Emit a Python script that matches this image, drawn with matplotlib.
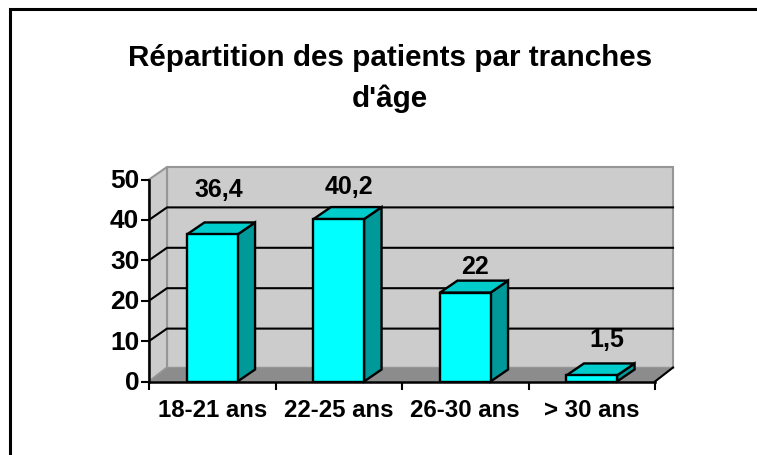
import matplotlib
matplotlib.use("Agg")
import matplotlib.pyplot as plt
from matplotlib.lines import Line2D
from matplotlib.patches import Polygon
from matplotlib.transforms import ScaledTranslation

W, H = 757, 456

categories = ["18-21 ans", "22-25 ans", "26-30 ans", "> 30 ans"]
values = [36.4, 40.2, 22, 1.5]
value_labels = ["36,4", "40,2", "22", "1,5"]
y_ticks = [0, 10, 20, 30, 40, 50]
title = "Répartition des patients par tranches\nd'âge"

plt.rcParams["font.family"] = ["Liberation Sans", "DejaVu Sans"]
plt.rcParams["font.weight"] = "bold"

fig = plt.figure(figsize=(W / 100, H / 100), dpi=100, facecolor="white")

# front plane of the fake 3d box, in pixels
x0, x1, y0, y1 = 149, 655, 382.5, 180.5
ax = fig.add_axes([x0 / W, 1 - y0 / H, (x1 - x0) / W, (y0 - y1) / H])
ax.set_xlim(0, 4)
ax.set_ylim(0, 50)
ax.patch.set_visible(False)
px_x = 4 / (x1 - x0)
px_y = 50 / (y0 - y1)

# box depth, and bar depth
wdx, wdy, fdy = 18 * px_x, 12.5 * px_y, 14 * px_y
bdx, bdy = 17.5 * px_x, 12 * px_y

# walls
wall = "#cccccc"
edge = "#969696"
ax.add_patch(Polygon([(wdx, fdy), (4 + wdx, fdy), (4 + wdx, 50 + wdy), (wdx, 50 + wdy)],
                     fc=wall, ec=edge, lw=1.5, clip_on=False, zorder=1))
ax.add_patch(Polygon([(0, 0), (wdx, fdy), (wdx, 50 + wdy), (0, 50)],
                     fc=wall, ec=edge, lw=1.5, clip_on=False, zorder=1))
ax.add_patch(Polygon([(0, 0), (4, 0), (4 + wdx, fdy), (wdx, fdy)],
                     fc="#8c8c8c", ec=edge, lw=1, clip_on=False, zorder=1))

# gridlines
for v in y_ticks[1:-1]:
    ax.plot([0, wdx, 4 + wdx], [v, v + wdy, v + wdy], color="black", lw=1.5,
            clip_on=False, zorder=2, solid_joinstyle="miter")
ax.plot([4, 4 + wdx], [0, fdy], color="black", lw=1.5, clip_on=False, zorder=2)

# bars
xpos = [0.5, 1.5, 2.5, 3.5]
width = 0.4
ax.bar(xpos, values, width=width, color="#00ffff", edgecolor="black", lw=1.7, zorder=5)
for x, v in zip(xpos, values):
    r = x + width / 2
    l = x - width / 2
    ax.add_patch(Polygon([(r, 0), (r + bdx, bdy), (r + bdx, v + bdy), (r, v)],
                         fc="#009999", ec="black", lw=1.7, clip_on=False, zorder=4))
    ax.add_patch(Polygon([(l, v), (r, v), (r + bdx, v + bdy), (l + bdx, v + bdy)],
                         fc="#00cccc", ec="black", lw=1.7, clip_on=False, zorder=4))

# value labels, offsets in pixels from the top of each bar
label_dx = [7, 10, 10, 15]
label_dy = [45, 33, 27, 36]
for x, v, s, dx, dy in zip(xpos, values, value_labels, label_dx, label_dy):
    ax.text(x + dx * px_x, v + dy * px_y, s, ha="center", va="center", fontsize=18,
            color="black", zorder=6)

# axes
for s in ["top", "right"]:
    ax.spines[s].set_visible(False)
for s in ["left", "bottom"]:
    ax.spines[s].set_linewidth(1.8)
    ax.spines[s].set_zorder(3)
ax.set_yticks(y_ticks)
ax.set_yticklabels([str(v) for v in y_ticks], fontsize=19)
ax.set_xticks([0, 1, 2, 3, 4])
ax.set_xticklabels([])
ax.set_xticks(xpos, minor=True)
ax.set_xticklabels(categories, minor=True, fontsize=17.3)
ax.tick_params(axis="x", which="major", length=6, width=1.5, direction="out")
ax.tick_params(axis="x", which="minor", length=0, pad=12)
ax.tick_params(axis="y", length=6, width=1.5, pad=1)

# y labels sit a little above their ticks in the original
up = ScaledTranslation(0, 2 / 100, fig.dpi_scale_trans)
for lab in ax.get_yticklabels():
    lab.set_transform(lab.get_transform() + up)

fig.text(390 / W, 1 - 78.5 / H, title, ha="center", va="center", fontsize=21.3,
         linespacing=1.55, color="black")

# chart area border, runs off the picture on the right and at the bottom
fig.add_artist(Line2D([9.5 / W, 9.5 / W, 1], [0, 1 - 9.5 / H, 1 - 9.5 / H], color="black", lw=2.2,
                      solid_joinstyle="miter"))

fig.savefig("out.png", dpi=100)
